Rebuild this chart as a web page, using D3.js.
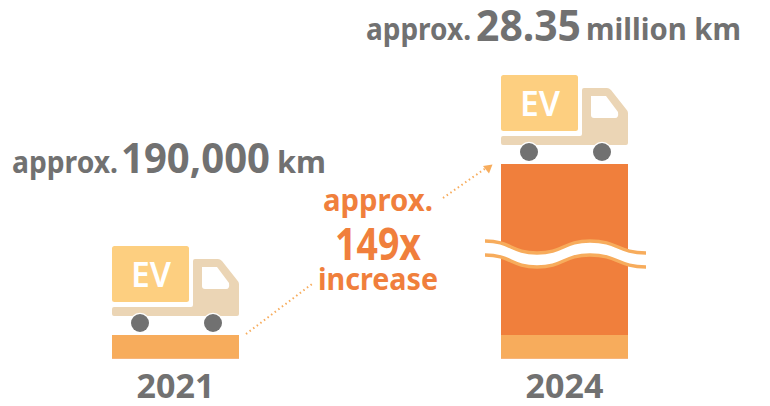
<!DOCTYPE html>
<html>
<head>
<meta charset="utf-8">
<script src="https://cdn.jsdelivr.net/npm/d3@7"></script>
<style>
  html, body { margin: 0; padding: 0; background: #fff; }
  svg { display: block; }
  text { font-family: "Noto Sans", sans-serif; font-weight: 700; }
</style>
</head>
<body>
<div id="graph"></div>
<script>
const years = ["2021", "2024"];
const distances = [190000, 28350000];
const yBreaks = [0, 190000, 28350000];
const valueLabels = [
  ["approx.", "190,000", "km"],
  ["approx.", "28.35", "million km"]
];
const multipleLabels = ["approx.", "149x", "increase"];

const width = 770;
const height = 406;
const grey = "#717171";
const orange = "#F07F3C";
const lightOrange = "#F7AC5C";

const svg = d3.select("#graph")
  .append("svg")
    .attr("width", width)
    .attr("height", height);

const x = d3.scalePoint()
  .domain(years)
  .range([175.5, 564.5]);

// the 2024 bar is broken, so the scale is piecewise
const y = d3.scaleLinear()
  .domain(yBreaks)
  .range([358.5, 335, 164]);

const barWidth = 127;

// bars
svg.selectAll("rect.bar")
  .data(distances)
  .enter()
  .append("rect")
    .attr("class", "bar")
    .attr("x", (d, i) => x(years[i]) - barWidth / 2)
    .attr("y", d => y(d))
    .attr("width", barWidth)
    .attr("height", d => y(0) - y(d))
    .attr("fill", orange);

// lower band is the same height as the 2021 bar
svg.selectAll("rect.base")
  .data(years)
  .enter()
  .append("rect")
    .attr("class", "base")
    .attr("x", d => x(d) - barWidth / 2)
    .attr("y", y(distances[0]))
    .attr("width", barWidth)
    .attr("height", y(0) - y(distances[0]))
    .attr("fill", lightOrange);

// trucks, drawn relative to the bar top left
function drawTruck(g) {
  g.append("rect")
    .attr("x", 0).attr("y", -89).attr("width", 77).attr("height", 56).attr("rx", 2.5)
    .attr("fill", "#FDCF80");
  g.append("path")
    .attr("d", "M81,-74 Q81,-76 83,-76 L106,-76 Q108,-76 110,-74 L125,-55 Q127,-53 127,-51 L127,-21 Q127,-19 125,-19 L2,-19 Q0,-19 0,-21 L0,-26 Q0,-28 2,-28 L79,-28 Q81,-28 81,-30 Z")
    .attr("fill", "#EBD5B5");
  g.append("path")
    .attr("d", "M90,-68 L105,-68 L117,-52 Q118,-46 114,-46 L93,-46 Q90,-46 90,-49 Z")
    .attr("fill", "#fff");
  g.selectAll("circle")
    .data([28, 101])
    .enter()
    .append("circle")
      .attr("cx", d => d)
      .attr("cy", -12)
      .attr("r", 9)
      .attr("fill", grey)
      .attr("stroke", "#fff")
      .attr("stroke-width", 2.5)
      .attr("paint-order", "stroke");
  g.append("text")
    .attr("x", 19)
    .attr("y", -48)
    .attr("font-size", 35)
    .attr("fill", "#fff")
    .attr("textLength", 40)
    .attr("lengthAdjust", "spacingAndGlyphs")
    .style("font-weight", 600)
    .text("EV");
}

svg.selectAll("g.truck")
  .data(distances)
  .enter()
  .append("g")
    .attr("class", "truck")
    .attr("transform", (d, i) => "translate(" + (x(years[i]) - barWidth / 2) + "," + y(d) + ")")
    .call(drawTruck);

// axis break wave
const wavePoints = [[485, 241], [537, 253], [590, 241], [646, 253]];
const waveGap = 14;
const waveLine = d3.line().curve(d3.curveBumpX);
const waveBand = d3.area()
  .x(d => d[0])
  .y0(d => d[1])
  .y1(d => d[1] + waveGap)
  .curve(d3.curveBumpX);

svg.append("path")
  .attr("d", waveBand(wavePoints))
  .attr("fill", "#fff");

[0, waveGap].forEach(off => {
  svg.append("path")
    .attr("d", waveLine(wavePoints.map(p => [p[0], p[1] + off])))
    .attr("fill", "none")
    .attr("stroke", lightOrange)
    .attr("stroke-width", 3.5);
});

// dotted connector
const connectors = [
  [[246, 334], [312, 284]],
  [[443, 198], [486, 168]]
];
connectors.forEach(c => {
  svg.append("path")
    .attr("d", d3.line()(c))
    .attr("fill", "none")
    .attr("stroke", lightOrange)
    .attr("stroke-width", 2)
    .attr("stroke-dasharray", "1.5 3");
});
svg.append("path")
  .attr("d", "M492.5,164.5 L483,166 L489,173.5 Z")
  .attr("fill", lightOrange);

// year labels
svg.selectAll("text.year")
  .data(years)
  .enter()
  .append("text")
    .attr("class", "year")
    .attr("x", d => x(d))
    .attr("y", 398)
    .attr("text-anchor", "middle")
    .attr("font-size", 34)
    .attr("fill", grey)
    .text(d => d);

// value labels
function addText(str, xPos, yPos, size, len, color) {
  svg.append("text")
    .attr("x", xPos)
    .attr("y", yPos)
    .attr("font-size", size)
    .attr("fill", color)
    .attr("textLength", len)
    .attr("lengthAdjust", "spacingAndGlyphs")
    .text(str);
}

addText(valueLabels[0][0], 12, 173, 31, 106, grey);
addText(valueLabels[0][1], 121, 173, 42, 149, grey);
addText(valueLabels[0][2], 277, 173, 30, 49, grey);

addText(valueLabels[1][0], 366, 40, 31, 105, grey);
addText(valueLabels[1][1], 476, 41, 43, 105, grey);
addText(valueLabels[1][2], 586, 40, 30, 155, grey);

addText(multipleLabels[0], 323, 211, 31, 110, orange);
addText(multipleLabels[1], 335, 260, 44, 86, orange);
addText(multipleLabels[2], 318, 290, 31, 120, orange);
</script>
</body>
</html>
